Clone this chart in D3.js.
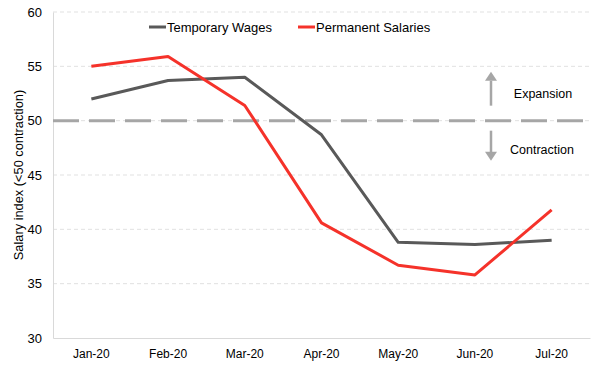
<!DOCTYPE html>
<html>
<head>
<meta charset="utf-8">
<script src="https://cdn.jsdelivr.net/npm/d3@7"></script>
<style>
  body { margin: 0; background: #fff; }
  svg { font-family: "Liberation Sans", Arial, sans-serif; }
</style>
</head>
<body>
<svg width="600" height="391"></svg>
<script>
var months = ["Jan-20", "Feb-20", "Mar-20", "Apr-20", "May-20", "Jun-20", "Jul-20"];
var temporaryWages = [52.0, 53.7, 54.0, 48.7, 38.8, 38.6, 39.0];
var permanentSalaries = [55.0, 55.9, 51.4, 40.6, 36.7, 35.8, 41.8];
var yTicks = [30, 35, 40, 45, 50, 55, 60];
var threshold = 50;

var svg = d3.select("svg");
var plotLeft = 53, plotRight = 590, plotTop = 12, plotBottom = 338;

var x = d3.scaleBand().domain(months).range([plotLeft, plotRight]);
var y = d3.scaleLinear().domain([30, 60]).range([plotBottom, plotTop]);

// gridlines
svg.append("g").selectAll("line")
    .data(yTicks.filter(function(d) { return d !== 30; }))
    .enter().append("line")
    .attr("x1", plotLeft).attr("x2", plotRight)
    .attr("y1", function(d) { return y(d); })
    .attr("y2", function(d) { return y(d); })
    .attr("stroke", "#d9d9d9")
    .attr("stroke-width", 0.8)
    .attr("stroke-dasharray", "4,3");

// axes
var yAxis = svg.append("g")
    .attr("transform", "translate(" + plotLeft + ",0)")
    .call(d3.axisLeft(y).tickValues(yTicks).tickSize(0).tickPadding(11));
yAxis.select(".domain").attr("stroke", "#d9d9d9");
yAxis.selectAll("text").attr("font-size", 13).attr("fill", "#000");

var xAxis = svg.append("g")
    .attr("transform", "translate(0," + plotBottom + ")")
    .call(d3.axisBottom(x).tickSize(0).tickPadding(11));
xAxis.select(".domain").attr("stroke", "#d9d9d9");
xAxis.selectAll("text").attr("font-size", 12).attr("fill", "#000");

svg.append("text")
    .attr("transform", "translate(23," + ((plotTop + plotBottom) / 2) + ") rotate(-90)")
    .attr("text-anchor", "middle")
    .attr("font-size", 12.8)
    .text("Salary index (<50 contraction)");

// 50 reference line
svg.append("line")
    .attr("x1", plotLeft).attr("x2", 584)
    .attr("y1", y(threshold)).attr("y2", y(threshold))
    .attr("stroke", "#a6a6a6")
    .attr("stroke-width", 3)
    .attr("stroke-dasharray", "26,10");

// arrows
var arrowColor = "#a6a6a6";
var y50 = y(threshold);
svg.append("line").attr("x1", 491).attr("x2", 491)
    .attr("y1", y50 - 15).attr("y2", y50 - 40)
    .attr("stroke", arrowColor).attr("stroke-width", 2.5);
svg.append("path")
    .attr("d", "M485," + (y50 - 40) + " L497," + (y50 - 40) + " L491," + (y50 - 49) + " Z")
    .attr("fill", arrowColor);
svg.append("line").attr("x1", 491).attr("x2", 491)
    .attr("y1", y50 + 10).attr("y2", y50 + 32)
    .attr("stroke", arrowColor).attr("stroke-width", 2.5);
svg.append("path")
    .attr("d", "M485," + (y50 + 31) + " L497," + (y50 + 31) + " L491," + (y50 + 40) + " Z")
    .attr("fill", arrowColor);

svg.append("text").attr("x", 543).attr("y", y50 - 23)
    .attr("text-anchor", "middle").attr("font-size", 12.5).text("Expansion");
svg.append("text").attr("x", 542).attr("y", y50 + 33)
    .attr("text-anchor", "middle").attr("font-size", 12.5).text("Contraction");

// series
var series = [
    { name: "Temporary Wages", values: temporaryWages, color: "#595959" },
    { name: "Permanent Salaries", values: permanentSalaries, color: "#f5322a" }
];

var line = d3.line()
    .x(function(d, i) { return x(months[i]) + x.bandwidth() / 2; })
    .y(function(d) { return y(d); });

svg.append("g").selectAll("path")
    .data(series)
    .enter().append("path")
    .attr("d", function(d) { return line(d.values); })
    .attr("fill", "none")
    .attr("stroke", function(d) { return d.color; })
    .attr("stroke-width", 3)
    .attr("stroke-linejoin", "round");

// legend
var legendX = [149, 298];
var legend = svg.append("g").selectAll("g")
    .data(series)
    .enter().append("g")
    .attr("transform", function(d, i) { return "translate(" + legendX[i] + ",27)"; });
legend.append("line")
    .attr("x1", 0).attr("x2", 17)
    .attr("stroke", function(d) { return d.color; })
    .attr("stroke-width", 3);
legend.append("text")
    .attr("x", 18).attr("y", 4.5)
    .attr("font-size", 13)
    .text(function(d) { return d.name; });
</script>
</body>
</html>
